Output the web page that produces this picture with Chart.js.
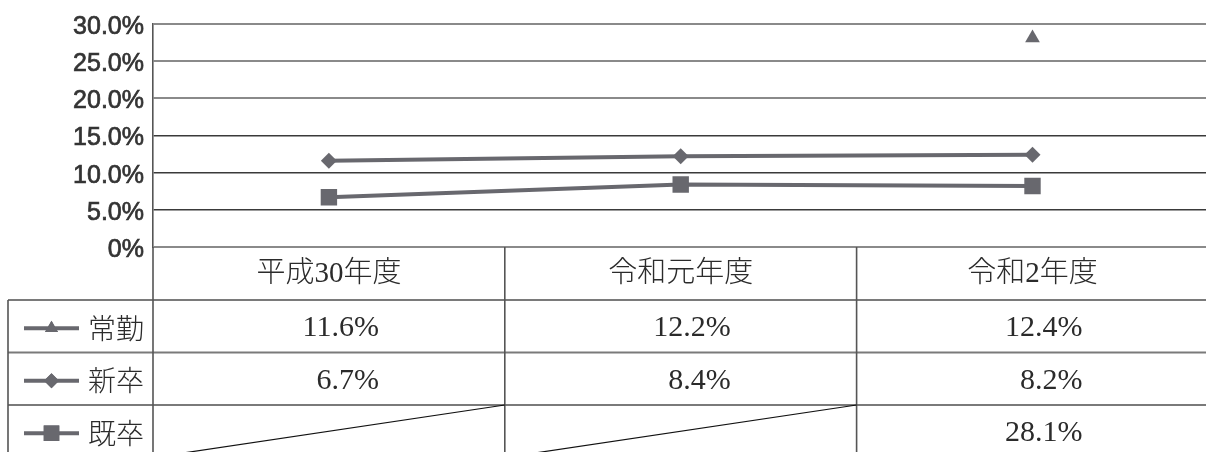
<!DOCTYPE html>
<html lang="ja">
<head>
<meta charset="utf-8">
<script src="https://cdn.jsdelivr.net/npm/chart.js@4/dist/chart.umd.min.js"></script>
<style>
  html, body { margin: 0; padding: 0; background: #fff; overflow: hidden; }
  #wrap { width: 1206px; height: 452px; overflow: hidden; position: relative; }
  #c { display: block; }
</style>
</head>
<body>
<div id="wrap"><canvas id="c" width="1220" height="452"></canvas></div>
<script>
// 年度（カテゴリ）
const categories = ['平成30年度', '令和元年度', '令和2年度'];
// 系列名
const seriesNames = ['常勤', '新卒', '既卒'];
// 系列ごとの値（%）
const joukin = [11.6, 12.2, 12.4];
const shinsotsu = [6.7, 8.4, 8.2];
const kisotsu = [null, null, 28.1];
// 縦軸の目盛ラベル
const yTickValues = [0, 5, 10, 15, 20, 25, 30];
const yTickLabels = ['0%', '5.0%', '10.0%', '15.0%', '20.0%', '25.0%', '30.0%'];

const seriesValues = [joukin, shinsotsu, kisotsu];
const markColor = '#68686e';
const inkColor = '#2b2b2b';
// 表の凡例キーに描くマーカー
const keyMarkers = ['triangle', 'rectRot', 'rect'];
const keyRadius = { triangle: 7.5, rectRot: 7.5, rect: 11 };

const cjkFont = '"Liberation Serif", "Noto Sans CJK JP"';

function drawKeyMarker(ctx, style, x, y) {
  Chart.helpers.drawPoint(ctx, { pointStyle: style, radius: keyRadius[style], rotation: 0, borderWidth: 0 }, x, y);
  ctx.fill();
}

// 表（年度見出し・凡例・数値）をグラフ下に描く
const dataTable = {
  id: 'dataTable',
  afterDraw(chart) {
    const { ctx, chartArea: area } = chart;
    const n = categories.length;
    const band = (area.right - area.left) / n;
    const headTop = area.bottom;
    const headH = 53;
    const rowH = 52.5;
    const tableLeft = 8;
    const rowTops = [headTop + headH, headTop + headH + rowH, headTop + headH + 2 * rowH];
    const tableBottom = rowTops[2] + rowH;

    ctx.save();
    // 横罫線
    ctx.strokeStyle = '#7a7a7a';
    ctx.lineWidth = 2;
    rowTops.forEach(y => {
      ctx.beginPath();
      ctx.moveTo(tableLeft, y);
      ctx.lineTo(area.right, y);
      ctx.stroke();
    });
    // 縦罫線
    ctx.strokeStyle = '#555';
    ctx.lineWidth = 1.6;
    ctx.beginPath();
    ctx.moveTo(tableLeft, rowTops[0]);
    ctx.lineTo(tableLeft, tableBottom);
    for (let i = 0; i <= n; i++) {
      const x = area.left + band * i;
      ctx.moveTo(x, headTop);
      ctx.lineTo(x, tableBottom);
    }
    ctx.stroke();

    // 年度見出し
    ctx.fillStyle = inkColor;
    ctx.textBaseline = 'middle';
    ctx.textAlign = 'center';
    ctx.font = '300 29px ' + cjkFont;
    categories.forEach((c, i) => {
      const cx = chart.scales.x.getPixelForValue(i);
      ctx.fillText(c, cx, headTop + headH / 2 + 1);
    });

    // 凡例キーと数値
    seriesNames.forEach((name, r) => {
      const cy = rowTops[r] + rowH / 2 + 2;
      ctx.strokeStyle = markColor;
      ctx.fillStyle = markColor;
      ctx.lineWidth = 4;
      ctx.beginPath();
      ctx.moveTo(24, cy);
      ctx.lineTo(79, cy);
      ctx.stroke();
      drawKeyMarker(ctx, keyMarkers[r], 51.5, cy);

      ctx.fillStyle = inkColor;
      ctx.textAlign = 'left';
      ctx.font = '300 28px "Noto Sans CJK JP"';
      ctx.fillText(name, 88, cy);

      seriesValues[r].forEach((v, i) => {
        const cx = chart.scales.x.getPixelForValue(i);
        if (v === null) {
          // 値なしのセルは斜線
          ctx.strokeStyle = '#111';
          ctx.lineWidth = 1.2;
          ctx.beginPath();
          ctx.moveTo(cx - band / 2, rowTops[r] + rowH);
          ctx.lineTo(cx + band / 2, rowTops[r]);
          ctx.stroke();
        } else {
          ctx.fillStyle = inkColor;
          ctx.textAlign = 'right';
          ctx.font = '30px "Liberation Serif"';
          ctx.fillText(v.toFixed(1) + '%', cx + 50, cy);
        }
      });
    });
    ctx.restore();
  }
};

new Chart(document.getElementById('c'), {
  type: 'line',
  data: {
    labels: categories,
    datasets: [
      {
        label: seriesNames[0],
        data: joukin,
        borderColor: markColor,
        backgroundColor: markColor,
        borderWidth: 4,
        pointStyle: 'rectRot',
        pointRadius: 8,
        pointBorderWidth: 0,
        tension: 0
      },
      {
        label: seriesNames[1],
        data: shinsotsu,
        borderColor: markColor,
        backgroundColor: markColor,
        borderWidth: 4,
        pointStyle: 'rect',
        pointRadius: 11.6,
        pointBorderWidth: 0,
        tension: 0
      },
      {
        label: seriesNames[2],
        data: kisotsu,
        borderColor: markColor,
        backgroundColor: markColor,
        borderWidth: 4,
        showLine: false,
        pointStyle: 'triangle',
        pointRadius: 8.5,
        pointBorderWidth: 0
      }
    ]
  },
  options: {
    responsive: false,
    animation: false,
    events: [],
    layout: { padding: { top: 20, right: 2, bottom: 205, left: 0 } },
    plugins: {
      legend: { display: false },
      tooltip: { enabled: false }
    },
    scales: {
      x: {
        type: 'category',
        display: false,
        offset: true
      },
      y: {
        min: 0,
        max: 30,
        afterFit(scale) { scale.width = 153; },
        afterBuildTicks(scale) { scale.ticks = yTickValues.map(v => ({ value: v })); },
        border: { display: true, color: '#555', width: 1.6 },
        grid: {
          drawTicks: false,
          color: ctx => (ctx.tick && (ctx.tick.value >= 20 || ctx.tick.value === 0)) ? '#8a8a8a' : '#3a3a3a',
          lineWidth: ctx => (ctx.tick && (ctx.tick.value >= 20 || ctx.tick.value === 0)) ? 2 : 1.4
        },
        ticks: {
          padding: 9,
          labelOffset: 3,
          color: '#333',
          textStrokeColor: '#333',
          textStrokeWidth: 0.7,
          font: { family: '"Liberation Sans", Arial, sans-serif', size: 25 },
          callback: (v) => yTickLabels[yTickValues.indexOf(v)]
        }
      }
    }
  },
  plugins: [dataTable]
});
</script>
</body>
</html>
